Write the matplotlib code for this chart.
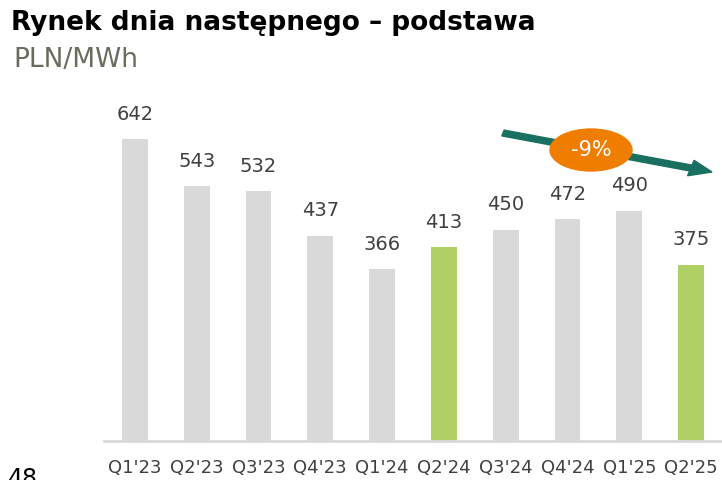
import matplotlib
matplotlib.use('agg')
import matplotlib.pyplot as plt
from matplotlib.patches import Ellipse, FancyArrow

quarters = ["Q1'23", "Q2'23", "Q3'23", "Q4'23", "Q1'24", "Q2'24", "Q3'24", "Q4'24", "Q1'25", "Q2'25"]
prices = [642, 543, 532, 437, 366, 413, 450, 472, 490, 375]
highlight = ["Q2'24", "Q2'25"]
change_label = "-9%"

GREY = '#d9d9d9'
GREEN = '#b0cf64'
TEXT = '#404040'

W, H = 722, 480
fig = plt.figure(figsize=(W / 100, H / 100), dpi=100)
ax = fig.add_axes([104 / W, 39 / H, 618 / W, 329 / H])

colors = [GREEN if q in highlight else GREY for q in quarters]
x = range(len(quarters))
bars = ax.bar(x, prices, width=0.42, color=colors, zorder=2)
for b, v in zip(bars, prices):
    ax.annotate(f'{v}', (b.get_x() + b.get_width() / 2, v), xytext=(0, 11),
                textcoords='offset points', ha='center', va='bottom',
                fontsize=14, color=TEXT)

ax.set_xlim(-0.5, len(quarters) - 0.5)
ax.set_ylim(0, 700)
ax.set_xticks(list(x))
ax.set_xticklabels(quarters, fontsize=13, color=TEXT)
ax.tick_params(axis='x', length=0, pad=13)
ax.set_yticks([])
for s in ['top', 'right', 'left']:
    ax.spines[s].set_visible(False)
ax.spines['bottom'].set_color(GREY)
ax.spines['bottom'].set_linewidth(2)

# title and unit
fig.text(11 / W, 1 - 23 / H, 'Rynek dnia następnego – podstawa', fontsize=19,
         fontweight='bold', color='black', va='center', ha='left')
fig.text(13 / W, 1 - 60 / H, 'PLN/MWh', fontsize=19, color='#6b6b5e', va='center', ha='left')

# trend arrow with change badge
x0, y0, x1, y1 = 503 / W, 1 - 133 / H, 712 / W, 1 - 172 / H
arrow = FancyArrow(x0, y0, x1 - x0, y1 - y0, width=6 / H, head_width=16 / H,
                   head_length=22 / W, length_includes_head=True,
                   color='#1a7060', transform=fig.transFigure, zorder=5)
fig.patches.append(arrow)
badge = Ellipse((591 / W, 1 - 150 / H), 82 / W, 42 / H, color='#ef7d00',
                transform=fig.transFigure, zorder=6)
fig.patches.append(badge)
fig.text(591 / W, 1 - 150 / H, change_label, fontsize=15, color='white',
         ha='center', va='center', zorder=7)

# page number
fig.text(8 / W, 1 - 479 / H, '48', fontsize=17, color='black', ha='left', va='center')

fig.savefig('out.png', dpi=100)
